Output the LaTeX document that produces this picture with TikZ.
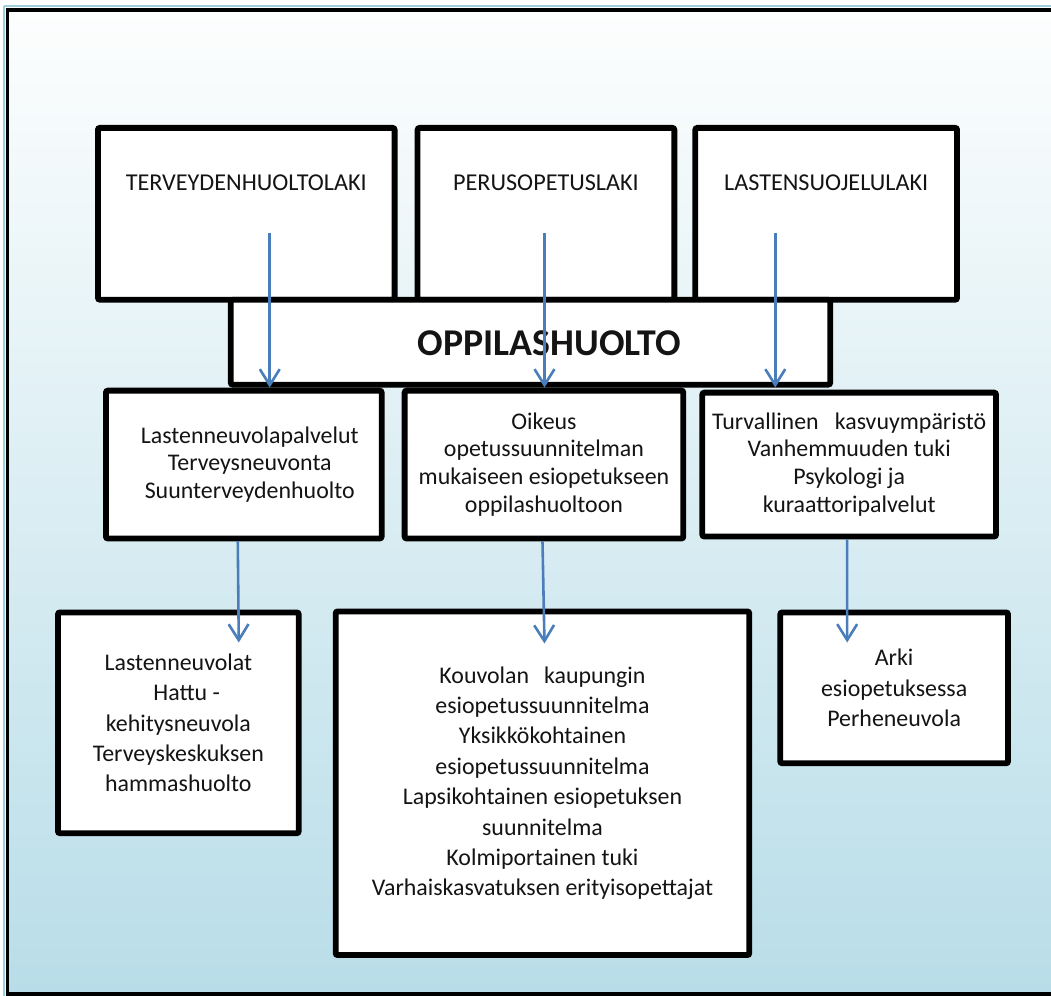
\documentclass[tikz,border=0pt]{standalone}
\usepackage{fontspec}
\setmainfont{Carlito}
\usetikzlibrary{arrows.meta,calc}
\definecolor{skytop}{HTML}{FDFEFE}
\definecolor{skybot}{HTML}{B8DDE8}
\definecolor{rim}{HTML}{9CCFDB}
\definecolor{arrowblue}{HTML}{4A7EBB}
\definecolor{ink}{HTML}{141414}
\tikzset{
  box/.style={draw=black, line width=5.8pt, fill=white, rounded corners=2pt,
    align=center, inner sep=0pt, text=ink},
  midtext/.style={font=\fontsize{24}{28}\selectfont},
  lowtext/.style={font=\fontsize{24}{30.5}\selectfont},
  lawtext/.style={font=\fontsize{24.3}{28}\selectfont, text=ink},
  arr/.style={draw=arrowblue, line width=2.6pt,
    -{Straight Barb[length=16pt,width=20pt,line width=2.6pt]}},
}
\begin{document}
\begin{tikzpicture}[x=1bp,y=-1bp]
\useasboundingbox (0,0) rectangle (1052,996.9);

% page background with its frame
\begin{scope}
  \clip (-2,-2) rectangle (1060,1000);
  \fill[white] (-2,-2) rectangle (1060,1000);
  \shade[top color=skytop, bottom color=skybot] (8,10) rectangle (1100,1000);
  \draw[rim, line width=2pt] (4,6) -- (1100,6);
  \draw[rim, line width=2pt] (4,6) -- (4,1000);
  \draw[black, line width=4pt] (7.5,10) -- (1100,10);
  \draw[black, line width=4pt] (7.5,8) -- (7.5,995) -- (1100,995);
\end{scope}

% the three laws
\node[box, minimum width=297bp, minimum height=172bp] (tA) at (246.5,214) {};
\node[lawtext] (tAt) at (246.5,183) {TERVEYDENHUOLTOLAKI};
\node[box, minimum width=257bp, minimum height=172bp] (tB) at (546.5,214) {};
\node[lawtext] (tBt) at (546.5,183) {PERUSOPETUSLAKI};
\node[box, minimum width=262bp, minimum height=172bp] (tC) at (827,214) {};
\node[lawtext] (tCt) at (827,183) {LASTENSUOJELULAKI};

% central heading
\node[box, minimum width=600bp, minimum height=85bp] (op) at (531,342.5) {};
\node[font=\fontsize{38}{44}\bfseries\selectfont, text=ink] (opt) at (550,344) {OPPILASHUOLTO};

% second row
\node[box, midtext, minimum width=276bp, minimum height=148bp] (mL) at (244,465)
  {\hspace*{12pt}Lastenneuvolapalvelut\\\hspace*{12pt}Terveysneuvonta\\\hspace*{12pt}Suunterveydenhuolto};
\node[box, midtext, minimum width=279bp, minimum height=148bp] (mM) at (544.5,465)
  {Oikeus\\opetussuunnitelman\\mukaiseen esiopetukseen\\oppilashuoltoon};
\node[box, midtext, minimum width=294bp, minimum height=144bp] (mR) at (850,465)
  {Turvallinen\hspace{0.45em} kasvuympäristö\\Vanhemmuuden tuki\\Psykologi ja\\kuraattoripalvelut};

% third row
\node[box, lowtext, minimum width=241bp, minimum height=221bp] (bL) at (178.5,723.5)
  {Lastenneuvolat\\\hspace*{0.7em}Hattu -\\kehitysneuvola\\Terveyskeskuksen\\hammashuolto};
\node[box, lowtext, minimum width=414bp, minimum height=344bp] (bM) at (543,784)
  {Kouvolan\hspace{0.4em} kaupungin\\esiopetussuunnitelma\\Yksikkökohtainen\\esiopetussuunnitelma\\Lapsikohtainen esiopetuksen\\suunnitelma\\Kolmiportainen tuki\\Varhaiskasvatuksen erityisopettajat};
\node[box, lowtext, minimum width=228bp, minimum height=151bp] (bR) at (895,688.5)
  {Arki\\esiopetuksessa\\Perheneuvola};

% arrows from the laws into the heading
\coordinate (s1) at ([xshift=23.5bp,yshift=-19bp]tA.center);
\coordinate (s2) at ([xshift=-1.5bp,yshift=-19bp]tB.center);
\coordinate (s3) at ([xshift=-51bp,yshift=-19bp]tC.center);
\draw[arr] (s1) -- (s1 |- op.south);
\draw[arr] (s2) -- (s2 |- op.south);
\draw[arr] (s3) -- (s3 |- op.south);

% arrows from the second row into the third
\coordinate (e1) at ([xshift=60.5bp,yshift=-33bp]bL.north);
\coordinate (e2) at ([xshift=2bp,yshift=-35bp]bM.north);
\coordinate (e3) at ([xshift=-47bp,yshift=-33bp]bR.north);
\draw[arr] ([xshift=-6bp]mL.south) -- (e1);
\draw[arr] ([xshift=-1.5bp]mM.south) -- (e2);
\draw[arr] ([xshift=-2bp]mR.south) -- (e3);
\end{tikzpicture}
\end{document}
